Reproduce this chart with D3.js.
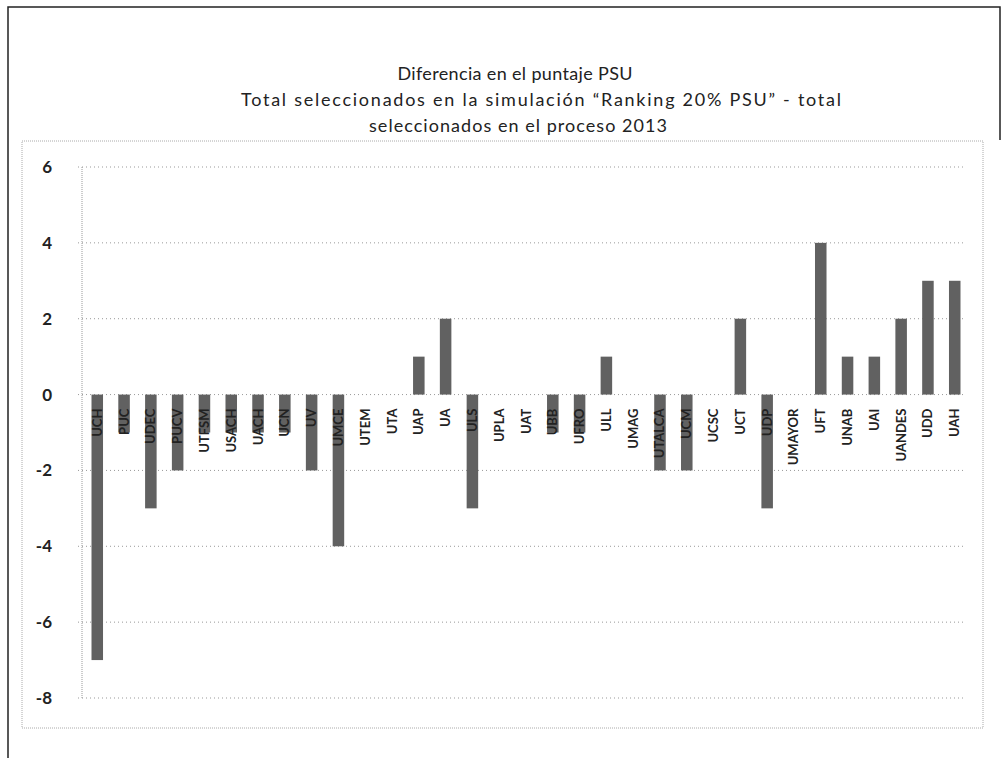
<!DOCTYPE html>
<html>
<head>
<meta charset="utf-8">
<script src="https://cdn.jsdelivr.net/npm/d3@7"></script>
<style>
  body { margin: 0; background: #fff; }
  text { font-family: Lato, "Liberation Sans", sans-serif; }
</style>
</head>
<body>
<div id="chart"></div>
<script>
var width = 1007;
var height = 758;

// data
var universidades = ["UCH", "PUC", "UDEC", "PUCV", "UTFSM", "USACH", "UACH", "UCN", "UV", "UMCE",
  "UTEM", "UTA", "UAP", "UA", "ULS", "UPLA", "UAT", "UBB", "UFRO", "ULL",
  "UMAG", "UTALCA", "UCM", "UCSC", "UCT", "UDP", "UMAYOR", "UFT", "UNAB", "UAI",
  "UANDES", "UDD", "UAH"];
var diferencia = [-7, -1, -3, -2, -1, -1, -1, -1, -2, -4,
  0, 0, 1, 2, -3, 0, 0, -1, -1, 1,
  0, -2, -2, 0, 2, -3, 0, 4, 1, 1,
  2, 3, 3];
var yTicks = [6, 4, 2, 0, -2, -4, -6, -8];
var titleLines = ["Diferencia en el puntaje PSU",
  "Total seleccionados en la simulación \u201CRanking 20% PSU\u201D -  total",
  "seleccionados en el proceso 2013"];

var data = universidades.map(function(u, i){ return {u: u, v: diferencia[i]}; });

var svg = d3.select("#chart")
  .append("svg")
  .attr("width", width)
  .attr("height", height);

// outer frame
svg.append("path")
  .attr("d", "M1000,140 V7 H8 V758")
  .attr("fill", "none")
  .attr("stroke", "#222")
  .attr("stroke-width", 1.5);

// inner dotted frame
svg.append("rect")
  .attr("x", 22).attr("y", 141)
  .attr("width", 961).attr("height", 587)
  .attr("fill", "none")
  .attr("stroke", "#aaa")
  .attr("stroke-dasharray", "1,1");

// title
var titleX = [515, 541, 518];
var titleY = [80, 106, 132];
var titleW = [235, 600, 298];
svg.selectAll(".title")
  .data(titleLines)
  .enter()
  .append("text")
  .attr("class", "title")
  .attr("x", function(d, i){ return titleX[i]; })
  .attr("y", function(d, i){ return titleY[i]; })
  .attr("text-anchor", "middle")
  .attr("textLength", function(d, i){ return titleW[i]; })
  .attr("lengthAdjust", "spacing")
  .attr("font-size", 18)
  .attr("fill", "#222")
  .text(function(d){ return d; });

var x = d3.scaleBand()
  .domain(universidades)
  .range([84, 968])
  .paddingInner(0.57)
  .paddingOuter(0.28);

var y = d3.scaleLinear()
  .domain([-8, 6])
  .range([698, 167]);

// gridlines
svg.append("g")
  .selectAll("line")
  .data(yTicks)
  .enter()
  .append("line")
  .attr("x1", 78).attr("x2", 966)
  .attr("y1", function(d){ return y(d); })
  .attr("y2", function(d){ return y(d); })
  .attr("stroke", "#999")
  .attr("stroke-dasharray", "1,3");

// y axis line
svg.append("line")
  .attr("x1", 82).attr("x2", 82)
  .attr("y1", y(6)).attr("y2", y(-8))
  .attr("stroke", "#999")
  .attr("stroke-dasharray", "1,1");

var yAxis = d3.axisLeft(y)
  .tickValues(yTicks)
  .tickSize(0)
  .tickPadding(30)
  .tickFormat(function(d){ return String(d); });

svg.append("g")
  .attr("transform", "translate(82,0)")
  .call(yAxis)
  .call(function(g){ g.select(".domain").remove(); })
  .selectAll("text")
  .attr("font-size", 17)
  .attr("font-weight", "bold")
  .attr("font-family", "Lato, sans-serif")
  .attr("fill", "#222");

// bars
svg.append("g")
  .selectAll("rect")
  .data(data.filter(function(d){ return d.v !== 0; }))
  .enter()
  .append("rect")
  .attr("x", function(d){ return x(d.u); })
  .attr("width", x.bandwidth())
  .attr("y", function(d){ return y(Math.max(0, d.v)); })
  .attr("height", function(d){ return Math.abs(y(d.v) - y(0)); })
  .attr("fill", "#616161");

// category labels, rotated, just under the zero line
svg.append("g")
  .selectAll("text")
  .data(data)
  .enter()
  .append("text")
  .attr("transform", function(d){
    return "translate(" + (x(d.u) + x.bandwidth() / 2 + 4.5) + "," + (y(0) + 14) + ") rotate(-90)";
  })
  .attr("text-anchor", "end")
  .attr("font-size", 13)
  .attr("font-weight", "bold")
  .attr("fill", "#222")
  .text(function(d){ return d.u; });
</script>
</body>
</html>
